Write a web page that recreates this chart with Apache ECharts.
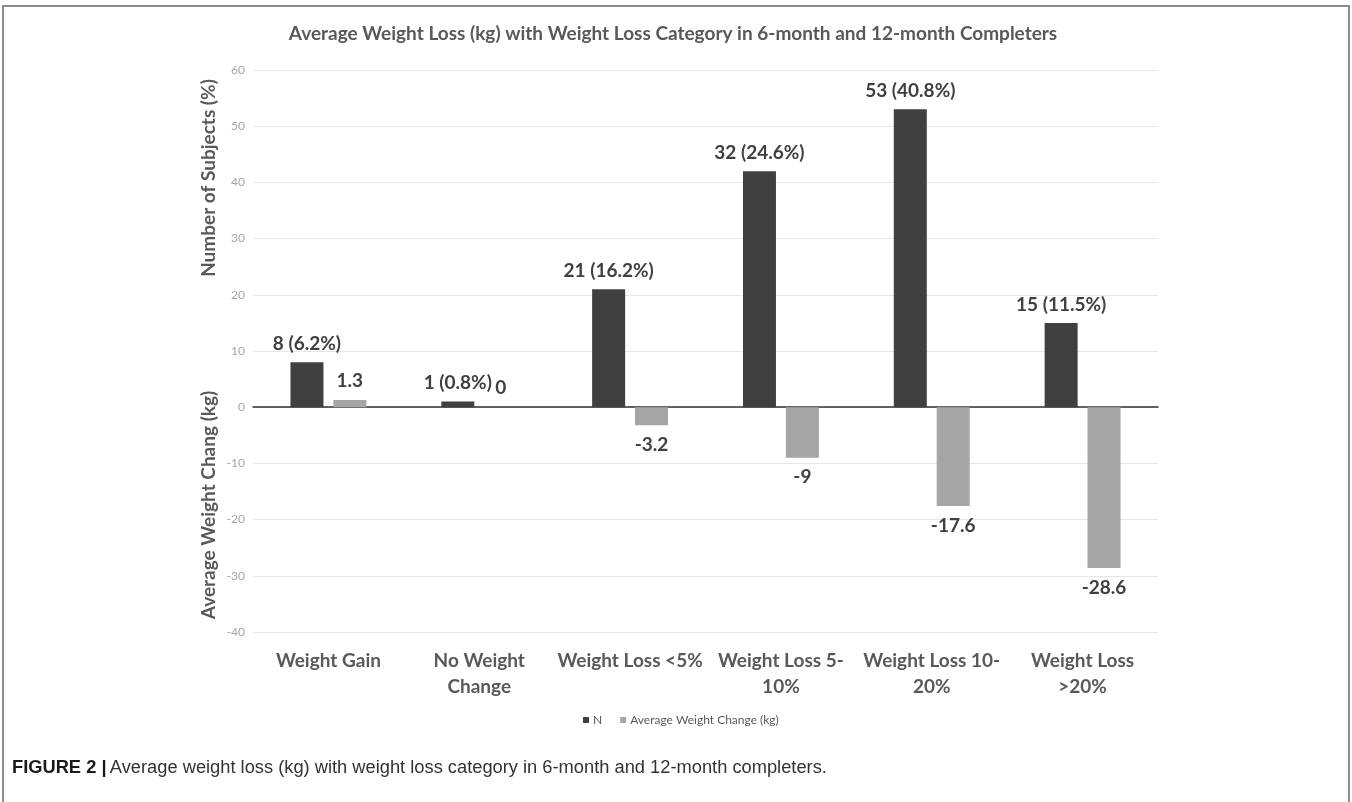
<!DOCTYPE html>
<html>
<head>
<meta charset="utf-8">
<script src="https://cdn.jsdelivr.net/npm/echarts@6/dist/echarts.min.js"></script>
<style>
  html, body { margin: 0; padding: 0; background: #fff; }
  #chart { width: 1352px; height: 802px; }
</style>
</head>
<body>
<div id="chart"></div>
<script>
// categories and values
var categories = ['Weight Gain', 'No Weight\nChange', 'Weight Loss <5%', 'Weight Loss 5-\n10%', 'Weight Loss 10-\n20%', 'Weight Loss\n>20%'];
// bar heights as drawn (the 32 bar is drawn up to ~42 in the source figure)
var countValues = [8, 1, 21, 42, 53, 15];
var countLabels = ['8 (6.2%)', '1 (0.8%)', '21 (16.2%)', '32 (24.6%)', '53 (40.8%)', '15 (11.5%)'];
var changeValues = [1.3, 0, -3.2, -9, -17.6, -28.6];
var changeLabels = ['1.3', '0', '-3.2', '-9', '-17.6', '-28.6'];
var yTicks = { min: -40, max: 60, step: 10 };

var chart = echarts.init(document.getElementById('chart'));
var labelFont = 'Lato, "Open Sans", sans-serif';
var axisGrey = '#595959';

var changeData = changeValues.map(function (v) {
  return { value: v, label: { position: v < 0 ? 'bottom' : 'top' } };
});

var option = {
  animation: false,
  backgroundColor: '#fff',
  title: {
    text: 'Average Weight Loss (kg) with Weight Loss Category in 6-month and 12-month Completers',
    left: 668,
    textAlign: 'center',
    top: 19,
    textStyle: { fontFamily: labelFont, fontSize: 19, fontWeight: 'bold', color: axisGrey }
  },
  legend: {
    left: 578,
    top: 709,
    itemWidth: 6,
    itemHeight: 6,
    itemGap: 18,
    icon: 'rect',
    textStyle: { fontFamily: labelFont, fontSize: 12, color: axisGrey, padding: [0, 0, 0, -1] }
  },
  grid: { left: 253, right: 194, top: 70, bottom: 170 },
  xAxis: [{
    type: 'category',
    data: categories,
    position: 'bottom',
    axisLine: { show: false, onZero: false },
    axisTick: { show: false },
    axisLabel: {
      interval: 0,
      margin: 16,
      fontFamily: labelFont,
      fontSize: 19,
      fontWeight: 'bold',
      lineHeight: 26,
      color: axisGrey
    }
  }, {
    type: 'category',
    data: categories,
    position: 'bottom',
    axisLine: { show: true, onZero: true, lineStyle: { color: '#333', width: 1.5 } },
    axisTick: { show: false },
    axisLabel: { show: false }
  }],
  yAxis: {
    type: 'value',
    min: yTicks.min,
    max: yTicks.max,
    interval: yTicks.step,
    axisLine: { show: false },
    axisTick: { show: false },
    axisLabel: { fontFamily: labelFont, fontSize: 12, color: '#a6a6a6', margin: 8 },
    splitLine: { lineStyle: { color: '#e6e6e6', width: 1 } }
  },
  series: [{
    name: 'N',
    type: 'bar',
    data: countValues,
    barWidth: 33,
    barGap: '30%',
    itemStyle: { color: '#404040' },
    label: {
      show: true,
      position: 'top',
      distance: 9,
      fontFamily: labelFont,
      fontSize: 19,
      fontWeight: 'bold',
      color: '#404040',
      formatter: function (p) { return countLabels[p.dataIndex]; }
    }
  }, {
    name: 'Average Weight Change (kg)',
    type: 'bar',
    data: changeData,
    barWidth: 33,
    itemStyle: { color: '#a5a5a5' },
    label: {
      show: true,
      distance: 10,
      fontFamily: labelFont,
      fontSize: 19,
      fontWeight: 'bold',
      color: '#404040',
      formatter: function (p) { return changeLabels[p.dataIndex]; }
    }
  }],
  graphic: [{
    type: 'rect',
    shape: { x: 3, y: 6, width: 1346, height: 810 },
    style: { fill: 'none', stroke: '#8a8a8a', lineWidth: 2 },
    silent: true
  }, {
    type: 'text',
    x: 209, y: 178,
    rotation: Math.PI / 2,
    style: {
      text: 'Number of Subjects (%)',
      align: 'center', verticalAlign: 'middle',
      font: 'bold 19px ' + labelFont,
      fill: axisGrey
    }
  }, {
    type: 'text',
    x: 209, y: 505,
    rotation: Math.PI / 2,
    style: {
      text: 'Average Weight Chang (kg)',
      align: 'center', verticalAlign: 'middle',
      font: 'bold 19px ' + labelFont,
      fill: axisGrey
    }
  }, {
    type: 'text',
    left: 12,
    top: 759,
    style: {
      text: '{b|FIGURE 2 |} {n|Average weight loss (kg) with weight loss category in 6-month and 12-month completers.}',
      rich: {
        b: { fontFamily: '"Liberation Sans", Arial, sans-serif', fontSize: 18.3, fontWeight: 'bold', fill: '#1a1a1a' },
        n: { fontFamily: '"Liberation Sans", Arial, sans-serif', fontSize: 18.3, fill: '#333' }
      }
    }
  }]
};

chart.setOption(option);
</script>
</body>
</html>
